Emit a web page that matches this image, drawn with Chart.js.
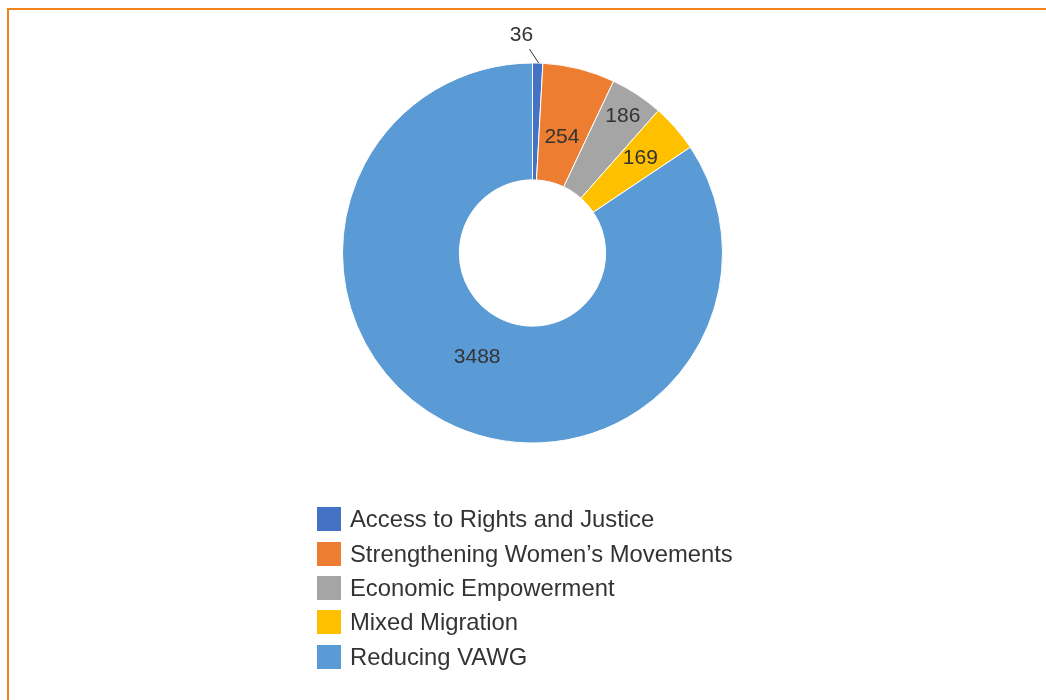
<!DOCTYPE html>
<html>
<head>
<meta charset="utf-8">
<script src="https://cdn.jsdelivr.net/npm/chart.js@4.4.0/dist/chart.umd.min.js"></script>
<style>
  html, body { margin: 0; padding: 0; background: #fff; overflow: hidden; }
  #frame {
    position: absolute; left: 7px; top: 8px; width: 1039px; height: 692px;
    border-top: 2px solid #F0841A; border-left: 2px solid #F0841A;
  }
  #wrap { position: absolute; left: 0; top: 0; width: 1046px; height: 700px; }
  #legend {
    position: absolute; left: 317px; top: 502px;
    font-family: "Liberation Sans", Arial, sans-serif; font-size: 23.8px; color: #333;
  }
  .item { height: 34.4px; display: flex; align-items: center; white-space: nowrap; }
  .box { width: 24px; height: 24px; margin-right: 9px; }
</style>
</head>
<body>
<div id="frame"></div>
<div id="wrap"><canvas id="donut"></canvas></div>
<div id="legend"></div>
<script>
// categories and values
const categories = [
    'Access to Rights and Justice',
    'Strengthening Women\u2019s Movements',
    'Economic Empowerment',
    'Mixed Migration',
    'Reducing VAWG'
];
const counts = [36, 254, 186, 169, 3488];
const sliceColors = ['#4472C4', '#ED7D31', '#A5A5A5', '#FFC000', '#5B9BD5'];

// Labels on the slices, Excel style (the tiny slice gets its label outside with a leader line)
const sliceLabels = {
    id: 'sliceLabels',
    afterDatasetsDraw(chart, args, opts) {
        const ctx = chart.ctx;
        const meta = chart.getDatasetMeta(0);
        ctx.save();
        ctx.font = opts.font;
        ctx.fillStyle = opts.color;
        ctx.textAlign = 'center';
        ctx.textBaseline = 'middle';
        meta.data.forEach((arc, i) => {
            const p = arc.getProps(['x', 'y', 'startAngle', 'endAngle', 'innerRadius', 'outerRadius']);
            const mid = (p.startAngle + p.endAngle) / 2;
            const f = opts.radial[i];
            let x, y;
            if (f === 'outside') {
                const r = p.outerRadius + 28;
                x = p.x + Math.cos(mid) * r - 17;
                y = p.y + Math.sin(mid) * r;
                const sx = p.x + Math.cos(mid) * p.outerRadius;
                const sy = p.y + Math.sin(mid) * p.outerRadius;
                ctx.strokeStyle = opts.color;
                ctx.lineWidth = 1;
                ctx.beginPath();
                ctx.moveTo(sx + 1, sy);
                ctx.lineTo(x + 8, y + 14);
                ctx.stroke();
            } else {
                const r = p.innerRadius + f * (p.outerRadius - p.innerRadius);
                x = p.x + Math.cos(mid) * r;
                y = p.y + Math.sin(mid) * r;
            }
            ctx.fillText(String(counts[i]), x, y);
        });
        ctx.restore();
    }
};

const canvas = document.getElementById('donut');
canvas.width = 1046;
canvas.height = 700;
const donut = new Chart(canvas.getContext('2d'), {
    type: 'doughnut',
    data: {
        labels: categories,
        datasets: [{
            data: counts,
            backgroundColor: sliceColors,
            borderColor: '#ffffff',
            borderWidth: 1
        }]
    },
    options: {
        responsive: false,
        animation: false,
        cutout: '38.5%',
        layout: { padding: { left: 342, right: 323, top: 62, bottom: 256 } },
        plugins: {
            legend: { display: false },
            tooltip: { enabled: false },
            sliceLabels: {
                font: '21px "Liberation Sans", Arial, sans-serif',
                color: '#333333',
                radial: ['outside', 0.40, 0.78, 0.6, 0.38]
            }
        }
    },
    plugins: [sliceLabels]
});

// legend in one column below the ring
const legend = document.getElementById('legend');
categories.forEach((name, i) => {
    const row = document.createElement('div');
    row.className = 'item';
    row.innerHTML = '<span class="box" style="background:' + sliceColors[i] + '"></span><span>' + name + '</span>';
    legend.appendChild(row);
});
</script>
</body>
</html>
